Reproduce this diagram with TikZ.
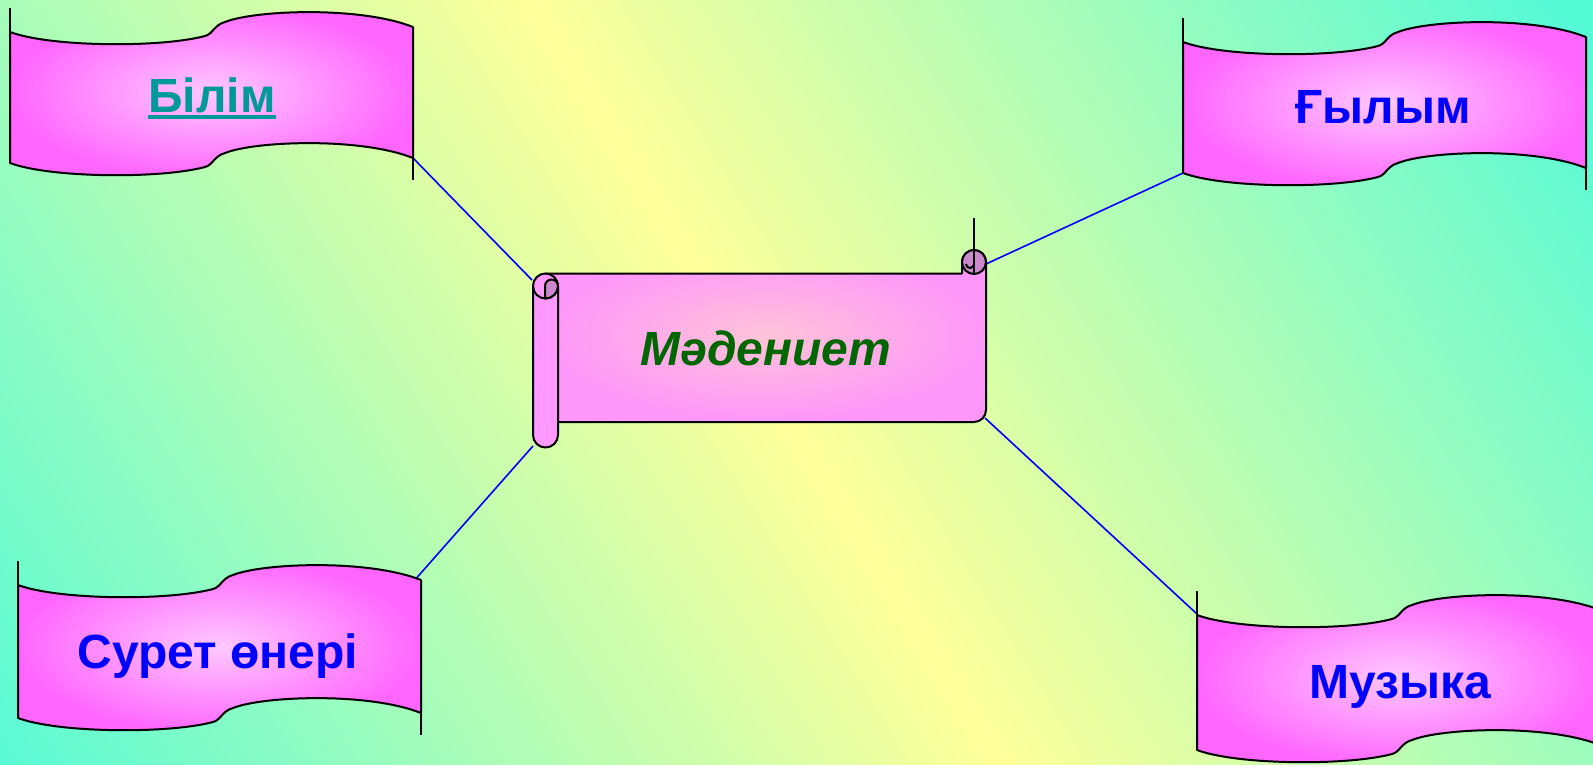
\documentclass[tikz,border=0pt]{standalone}
\usepackage{fontspec}
\setmainfont{Liberation Sans}
\definecolor{ybg}{RGB}{255,255,153}
\definecolor{cbg}{RGB}{85,250,215}
\definecolor{bmag}{RGB}{255,102,255}
\definecolor{blight}{RGB}{255,200,255}
\definecolor{spink}{RGB}{255,196,216}
\definecolor{sedge}{RGB}{255,150,250}
\definecolor{rollc}{RGB}{255,153,255}
\definecolor{curlc}{RGB}{204,136,204}
\definecolor{tealtxt}{RGB}{0,153,153}
\definecolor{greentxt}{RGB}{0,102,0}
\definecolor{linkblue}{RGB}{0,0,255}
\tikzset{
  bline/.style={draw=black, line width=2pt, line join=round},
  thinline/.style={draw=black, line width=1.1pt},
  bannerfill/.style={inner color=blight, outer color=bmag},
  connector/.style={draw=linkblue, line width=1.6pt},
  lbl/.style={inner sep=0pt, anchor=base, font=\bfseries\fontsize{48}{52}\selectfont, text=linkblue},
}
\newcommand\drawbanner[3]{%
  \begin{scope}[shift={(#1,#2)}]
    \path[bannerfill, bline] (0,0) .. controls (40,15) and (150,16) .. (195,4)
      .. controls (203,2) and (204,-7) .. (215,-10)
      .. controls (245,-22) and (350,-26) .. (403,-5)
      -- (403,#3-5)
      .. controls (350,#3-26) and (245,#3-22) .. (215,#3-10)
      .. controls (204,#3-7) and (203,#3+2) .. (195,#3+4)
      .. controls (150,#3+16) and (40,#3+15) .. (0,#3) -- cycle;
    \draw[thinline] (0,-24) -- (0,0);
    \draw[thinline] (403,#3-5) -- (403,#3+17);
  \end{scope}}
\begin{document}
\begin{tikzpicture}[x=1pt,y=-1pt]
\useasboundingbox (0,0) rectangle (1593,764);
\clip (0,0) rectangle (1593,764);
% background gradient
\begin{scope}[shift={(765,382)}, x={(0.852pt,0.524pt)}, y={(0.524pt,-0.852pt)}]
  \foreach \i in {-95,...,95}{
    \pgfmathtruncatemacro\q{max(0,100-abs(\i)*100/88)}
    \fill[ybg!\q!cbg] (\i*10-5.6,-1300) -- (\i*10+5.6,-1300) -- (\i*10+5.6,1300) -- (\i*10-5.6,1300) -- cycle;
  }
\end{scope}
% connector endpoints
\coordinate (bilimR) at (413,158);
\coordinate (scrollTL) at (532,280);
\coordinate (scrollTR) at (986,264);
\coordinate (gylymL) at (1183,173);
\coordinate (scrollBL) at (533,446);
\coordinate (suretR) at (413,582);
\coordinate (scrollBR) at (985,418);
\coordinate (muzykaL) at (1197,614);
\draw[connector] (bilimR) -- (scrollTL);
\draw[connector] (scrollTR) -- (gylymL);
\draw[connector] (scrollBL) -- (suretR);
\draw[connector] (scrollBR) -- (muzykaL);
% banners
\drawbanner{10}{32}{131}
\drawbanner{1183}{42}{131}
\drawbanner{18}{585}{133}
\drawbanner{1197}{615}{135}
% scroll body
\path[inner color=spink, outer color=sedge, bline] (545.5,273.5) -- (962,273.5) -- (962,262)
  arc[start angle=180,end angle=360,radius=12] -- (986,410)
  arc[start angle=0,end angle=90,radius=12] -- (545.5,422) -- cycle;
% right roll
\draw[bline, fill=curlc] (974,262) circle[radius=12];
\draw[thinline] (974,218) -- (974,250);
\draw[bline] (974,250) -- (974,273.5);
\draw[bline] (966,264) arc[start angle=180,end angle=0,radius=4];
% left roll
\draw[bline, fill=rollc] (533,286) arc[start angle=180,end angle=360,radius=12.5]
  -- (558,435) arc[start angle=0,end angle=180,radius=12.5] -- cycle;
\draw[bline] (533,286) arc[start angle=180,end angle=0,radius=12.5];
\draw[bline, fill=curlc] (545,298.5) -- (545,286) arc[start angle=180,end angle=360,radius=6.5]
  arc[start angle=0,end angle=90,radius=12.5] -- cycle;
% texts
\node[lbl, text=tealtxt] (bilim) at (212,112) {Білім};
\fill[tealtxt] ([yshift=-3pt]bilim.base west) rectangle ([yshift=-7pt]bilim.base east);
\node[lbl] (gylym) at (1383,123) {Ғылым};
\node[lbl] (suret) at (218,668) {Сурет өнері};
\node[lbl] (muzyka) at (1400,698) {Музыка};
\node[lbl, font=\bfseries\itshape\fontsize{48}{52}\selectfont, text=greentxt] (madeniet) at (766,365) {Мәдениет};
\end{tikzpicture}
\end{document}
